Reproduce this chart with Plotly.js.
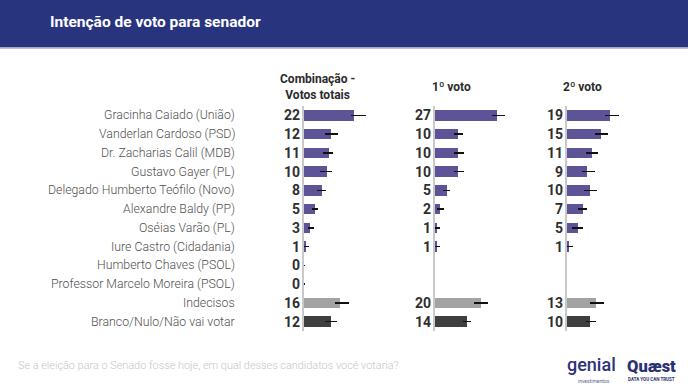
<!DOCTYPE html>
<html>
<head>
<meta charset="utf-8">
<script src="https://cdn.plot.ly/plotly-3.0.1.min.js"></script>
<style>
  html, body { margin: 0; padding: 0; background: #ffffff; }
  #chart { width: 688px; height: 392px; }
</style>
</head>
<body>
<div id="chart"></div>
<script>
// Senate vote intention by candidate (%), three ballot views
const categories = [
  'Gracinha Caiado (União)',
  'Vanderlan Cardoso (PSD)',
  'Dr. Zacharias Calil (MDB)',
  'Gustavo Gayer (PL)',
  'Delegado Humberto Teófilo (Novo)',
  'Alexandre Baldy (PP)',
  'Oséias Varão (PL)',
  'Iure Castro (Cidadania)',
  'Humberto Chaves (PSOL)',
  'Professor Marcelo Moreira (PSOL)',
  'Indecisos',
  'Branco/Nulo/Não vai votar'
];

const columnTitles = ['Combinação -<br>Votos totais', '1º voto', '2º voto'];

const totalVotes  = [22, 12, 11, 10, 8, 5, 3, 1, 0, 0, 16, 12];
const firstVote   = [27, 10, 10, 10, 5, 2, 1, 1, null, null, 20, 14];
const secondVote  = [19, 15, 11, 9, 10, 7, 5, 1, null, null, 13, 10];

// margin of error around each estimate (upper / lower)
const totalPlus   = [5.0, 2.9, 2.0, 2.3, 1.9, 1.3, 1.7, 1.6, 0.5, 0.5, 3.6, 2.5];
const totalMinus  = [1.2, 2.6, 2.6, 2.7, 2.2, 1.3, 1.0, 1.0, 0, 0, 2.2, 2.6];
const firstPlus   = [3.6, 2.0, 2.4, 2.4, 1.4, 1.7, 1.3, 1.3, null, null, 3.1, 1.7];
const firstMinus  = [2.2, 1.9, 1.9, 1.9, 1.5, 1.0, 1.0, 1.0, null, null, 3.2, 1.9];
const secondPlus  = [4.0, 3.2, 2.6, 3.2, 3.3, 1.9, 2.2, 1.7, null, null, 3.2, 3.0];
const secondMinus = [2.2, 2.6, 2.6, 2.2, 2.5, 2.2, 2.4, 1.0, null, null, 2.6, 1.7];

const W = 688, H = 392;
const px = v => v / W;
const py = v => 1 - v / H;

const barColor = c => c === 'Indecisos' ? '#a3a3a3'
  : (c === 'Branco/Nulo/Não vai votar' ? '#3f3f3f' : '#5c5497');
const colors = categories.map(barColor);

const series = [
  { values: totalVotes, plus: totalPlus, minus: totalMinus, x: 'x',  y: 'y'  },
  { values: firstVote,  plus: firstPlus, minus: firstMinus, x: 'x2', y: 'y2' },
  { values: secondVote, plus: secondPlus, minus: secondMinus, x: 'x3', y: 'y3' }
];

const traces = series.map(s => ({
  type: 'bar',
  orientation: 'h',
  x: s.values,
  y: categories,
  xaxis: s.x,
  yaxis: s.y,
  width: 0.55,
  marker: { color: colors, line: { width: 0 } },
  error_x: {
    type: 'data', symmetric: false,
    array: s.plus, arrayminus: s.minus,
    color: '#111111', thickness: 1.6, width: 0
  },
  hoverinfo: 'none',
  showlegend: false
}));

// column placement (pixel edges of each panel's zero line)
const colLeft = [303.5, 435, 566.5];
const colWidth = 92;          // 40 points of scale
const yTop = 106, yBottom = 331;
const headerCenters = [317, 451, 582];

const xAxisBase = {
  range: [0, 40], showgrid: false, zeroline: false, showline: false,
  showticklabels: false, ticks: '', fixedrange: true
};
const yAxisBase = {
  type: 'category', range: [11.5, -0.5],
  showgrid: false, zeroline: false, showticklabels: false, ticks: '',
  showline: true, linecolor: '#c9c9cc', linewidth: 2,
  domain: [py(yBottom), py(yTop)], fixedrange: true
};

const layout = {
  width: W, height: H,
  margin: { l: 0, r: 0, t: 0, b: 0 },
  paper_bgcolor: '#ffffff',
  plot_bgcolor: 'rgba(0,0,0,0)',
  font: { family: 'Roboto, "DejaVu Sans", sans-serif' },
  bargap: 0,
  xaxis:  Object.assign({}, xAxisBase, { domain: [px(colLeft[0]), px(colLeft[0] + colWidth)], anchor: 'y' }),
  xaxis2: Object.assign({}, xAxisBase, { domain: [px(colLeft[1]), px(colLeft[1] + colWidth)], anchor: 'y2' }),
  xaxis3: Object.assign({}, xAxisBase, { domain: [px(colLeft[2]), px(colLeft[2] + colWidth)], anchor: 'y3' }),
  yaxis:  Object.assign({}, yAxisBase, { anchor: 'x' }),
  yaxis2: Object.assign({}, yAxisBase, { anchor: 'x2' }),
  yaxis3: Object.assign({}, yAxisBase, { anchor: 'x3' }),
  shapes: [
    { type: 'rect', xref: 'paper', yref: 'paper', x0: 0, x1: 1, y0: py(47.5), y1: 1,
      fillcolor: '#29347f', line: { width: 0 }, layer: 'below' },
    { type: 'line', xref: 'paper', yref: 'paper', x0: 0, x1: 1, y0: py(48.3), y1: py(48.3),
      line: { color: '#b7bbd8', width: 1.5 } }
  ],
  annotations: []
};

const ann = layout.annotations;

// header title
ann.push({
  xref: 'paper', yref: 'paper', x: px(48), y: py(22), xanchor: 'left', yanchor: 'middle',
  text: 'Intenção de voto para senador', showarrow: false,
  font: { family: 'Roboto', size: 15.5, color: '#ffffff', weight: 700 }
});

// column titles
columnTitles.forEach((t, i) => {
  ann.push({
    xref: 'paper', yref: 'paper', x: px(headerCenters[i]), y: py(87),
    xanchor: 'center', yanchor: 'middle', text: t, showarrow: false,
    font: { family: 'Roboto', size: 12, color: '#2b2b2b', weight: 700 },
    align: 'center'
  });
});

// candidate labels
categories.forEach(c => {
  ann.push({
    xref: 'paper', yref: 'y', x: px(237), y: c, xanchor: 'right', yanchor: 'middle',
    text: c, showarrow: false,
    font: { family: 'Roboto', size: 12.3, color: '#505050', weight: 300 }
  });
});

// value labels next to each zero line
series.forEach(s => {
  s.values.forEach((v, i) => {
    if (v === null) return;
    ann.push({
      xref: s.x, yref: s.y, x: 0, y: categories[i], xanchor: 'right', yanchor: 'middle',
      xshift: -2, text: String(v), showarrow: false,
      font: { family: 'Roboto', size: 14, color: '#2f2f2f', weight: 700 }
    });
  });
});

// question wording
ann.push({
  xref: 'paper', yref: 'paper', x: px(16), y: py(365), xanchor: 'left', yanchor: 'middle',
  text: 'Se a eleição para o Senado fosse hoje, em qual desses candidatos você votaria?',
  showarrow: false,
  font: { family: 'Roboto', size: 10.9, color: '#c6c6c6', weight: 300 }
});

// sponsor marks
ann.push({
  xref: 'paper', yref: 'paper', x: px(591), y: py(364), xanchor: 'center', yanchor: 'middle',
  text: 'genial', showarrow: false,
  font: { family: 'Roboto', size: 18, color: '#2e3479', weight: 500 }
});
ann.push({
  xref: 'paper', yref: 'paper', x: px(594), y: py(380.5), xanchor: 'center', yanchor: 'middle',
  text: 'investimentos', showarrow: false,
  font: { family: 'Roboto', size: 5, color: '#5a5f95' }
});
ann.push({
  xref: 'paper', yref: 'paper', x: px(651), y: py(366.5), xanchor: 'center', yanchor: 'middle',
  text: 'Quæst', showarrow: false,
  font: { family: 'Roboto', size: 16.5, color: '#2a3275', weight: 900 }
});
ann.push({
  xref: 'paper', yref: 'paper', x: px(651), y: py(379), xanchor: 'center', yanchor: 'middle',
  text: 'DATA YOU CAN TRUST', showarrow: false,
  font: { family: 'Roboto', size: 4.5, color: '#2a3275', weight: 700 }
});

Plotly.newPlot('chart', traces, layout, { displayModeBar: false, staticPlot: true });
</script>
</body>
</html>
